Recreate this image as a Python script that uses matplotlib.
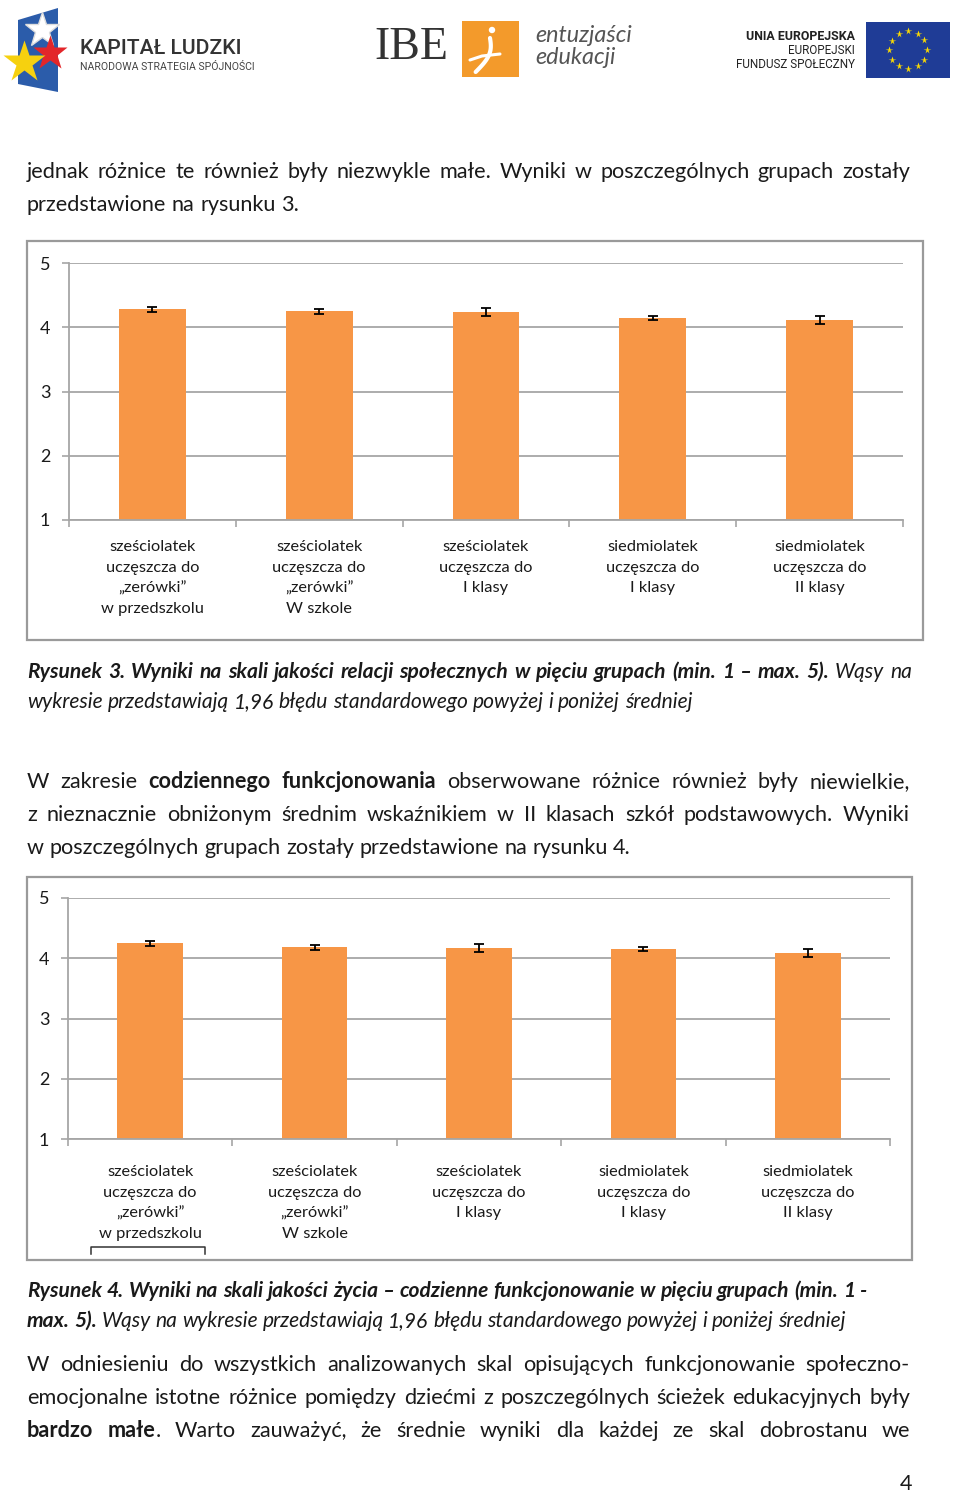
import matplotlib
matplotlib.use('Agg')
import matplotlib.pyplot as plt
from matplotlib.patches import Rectangle, Polygon, Circle
import numpy as np

# ---------------- data ----------------
categories = [
    "sześciolatek\nuczęszcza do\n„zerówki”\nw przedszkolu",
    "sześciolatek\nuczęszcza do\n„zerówki”\nW szkole",
    "sześciolatek\nuczęszcza do\nI klasy",
    "siedmiolatek\nuczęszcza do\nI klasy",
    "siedmiolatek\nuczęszcza do\nII klasy",
]
rel_means = [4.28, 4.25, 4.24, 4.14, 4.11]
rel_err = [0.04, 0.04, 0.06, 0.03, 0.06]
func_means = [4.25, 4.18, 4.17, 4.15, 4.09]
func_err = [0.04, 0.045, 0.07, 0.033, 0.07]
yticks = [1, 2, 3, 4, 5]

# ---------------- setup ----------------
W, H = 960, 1492
FONT = 'Lato'
ORANGE = '#F79646'
GRID = '#a6a6a6'
TXT = '#1a1a1a'

fig = plt.figure(figsize=(W / 100, H / 100), dpi=100)
bg = fig.add_axes([0, 0, 1, 1], zorder=0)
bg.set_xlim(0, W)
bg.set_ylim(H, 0)
bg.axis('off')
renderer = fig.canvas.get_renderer()


def rect_px(x0, y0, x1, y1):
    return [x0 / W, 1 - y1 / H, (x1 - x0) / W, (y1 - y0) / H]


# ---------------- header logos ----------------
# Kapitał Ludzki
bg.add_patch(Polygon([(18, 20), (58, 8), (58, 92), (18, 84)], closed=True,
                     facecolor='#2b5caa', edgecolor='none'))
bg.plot([42], [30], marker='*', ms=26, color='white', mec='#dddddd')
bg.plot([50], [53], marker='*', ms=26, color='#e3262a', mec='none')
bg.plot([24], [62], marker='*', ms=32, color='#f6d10f', mec='none')
bg.text(80, 48, 'KAPITAŁ LUDZKI', fontsize=15.2, family='Roboto', weight='medium',
        color='#333333', va='center', ha='left')
bg.text(80, 67, 'NARODOWA STRATEGIA SPÓJNOŚCI', fontsize=7.6, family='Roboto',
        color='#444444', va='center', ha='left')

# IBE
bg.text(411, 48, 'IBE', fontsize=33, family='Liberation Serif', color='#333333',
        va='center', ha='center')
bg.add_patch(Rectangle((462, 21), 57, 56, facecolor='#F39A2B', edgecolor='none'))
bg.add_patch(Circle((492, 30), 3.2, facecolor='white', edgecolor='none'))
t_ = np.linspace(0, 1, 40)
cx = 490 + 6 * np.sin(t_ * 3.2) - 14 * t_
cy = 38 + 34 * t_
bg.plot(cx, cy, color='white', lw=3, solid_capstyle='round')
bg.plot([470, 482, 500], [60, 56, 54], color='white', lw=2.2, solid_capstyle='round')
bg.text(535, 36, 'entuzjaści', fontsize=16.8, family='Lato', style='italic',
        color='#555555', va='center', ha='left')
bg.text(535, 58, 'edukacji', fontsize=16.8, family='Lato', style='italic',
        color='#555555', va='center', ha='left')

# EU
bg.text(855, 36, 'UNIA EUROPEJSKA', fontsize=8.9, family='Roboto', weight='bold',
        color='#222222', va='center', ha='right')
bg.text(855, 51, 'EUROPEJSKI', fontsize=8.4, family='Roboto', color='#222222',
        va='center', ha='right')
bg.text(855, 65, 'FUNDUSZ SPOŁECZNY', fontsize=8.4, family='Roboto', color='#222222',
        va='center', ha='right')
bg.add_patch(Rectangle((866, 22), 84, 56, facecolor='#1f3c96', edgecolor='none'))
ang = np.arange(12) * np.pi / 6
bg.plot(908 + 19 * np.cos(ang), 50 + 19 * np.sin(ang), ls='none', marker='*',
        ms=5.5, color='#ffdd00', mec='none')


# ---------------- justified text ----------------
STY = {
    'r': dict(weight='normal', style='normal', fontsize=15.55),
    'b': dict(weight='bold', style='normal', fontsize=15.55),
    'i': dict(weight='normal', style='italic', fontsize=15.1),
    'bi': dict(weight='bold', style='italic', fontsize=15.1),
}


def measure(s, st):
    t = bg.text(0, 0, s, family=FONT, **STY[st])
    w = t.get_window_extent(renderer).width
    t.remove()
    return w


def tokenize(runs):
    words = []
    cur = []
    for s, st in runs:
        parts = s.split(' ')
        for j, p in enumerate(parts):
            if j > 0 and cur:
                words.append(cur)
                cur = []
            if p:
                cur.append((p, st))
    if cur:
        words.append(cur)
    return words


def draw_line(y, runs, justify=True, x0=27, x1=910):
    words = tokenize(runs)
    widths = [[measure(s, st) for s, st in w] for w in words]
    total = sum(sum(w) for w in widths)
    if justify and len(words) > 1:
        gap = (x1 - x0 - total) / (len(words) - 1)
    else:
        st0 = words[0][0][1]
        gap = measure('a a', st0) - measure('aa', st0)
    x = x0
    for w, ws in zip(words, widths):
        for (s, st), sw in zip(w, ws):
            bg.text(x, y, s, family=FONT, color=TXT,
                    va='baseline', ha='left', **STY[st])
            x += sw
        x += gap


draw_line(178, [("jednak różnice te również były niezwykle małe. Wyniki w poszczególnych grupach zostały", 'r')])
draw_line(211, [("przedstawione na rysunku 3.", 'r')], justify=False)

draw_line(678, [("Rysunek 3. Wyniki na skali jakości relacji społecznych w pięciu grupach (min. 1 – max. 5).", 'bi'),
                (" Wąsy na", 'i')], x1=912)
draw_line(708, [("wykresie przedstawiają 1,96 błędu standardowego powyżej i poniżej średniej", 'i')], justify=False)

draw_line(788, [("W zakresie ", 'r'), ("codziennego funkcjonowania", 'b'),
                (" obserwowane różnice również były niewielkie,", 'r')])
draw_line(821, [("z nieznacznie obniżonym średnim wskaźnikiem w II klasach szkół podstawowych. Wyniki", 'r')])
draw_line(854, [("w poszczególnych grupach zostały przedstawione na rysunku 4.", 'r')], justify=False)

draw_line(1297, [("Rysunek 4. Wyniki na skali jakości życia – codzienne funkcjonowanie w pięciu grupach (min. 1 -", 'bi')],
          justify=False)
draw_line(1327, [("max. 5).", 'bi'), (" Wąsy na wykresie przedstawiają 1,96 błędu standardowego powyżej i poniżej średniej", 'i')],
          justify=False)

draw_line(1371, [("W odniesieniu do wszystkich analizowanych skal opisujących funkcjonowanie społeczno-", 'r')])
draw_line(1404, [("emocjonalne istotne różnice pomiędzy dziećmi z poszczególnych ścieżek edukacyjnych były", 'r')])
draw_line(1437, [("bardzo małe", 'b'), (". Warto zauważyć, że średnie wyniki dla każdej ze skal dobrostanu we", 'r')])

bg.text(906, 1490, '4', family=FONT, color=TXT, va='baseline', ha='center', **STY['r'])

# ---------------- chart frames ----------------
bg.add_patch(Rectangle((27, 241), 896, 399, facecolor='white', edgecolor='#9a9a9a', lw=1.6))
bg.add_patch(Rectangle((27, 877), 885, 383, facecolor='white', edgecolor='#9a9a9a', lw=1.6))
bg.plot([91, 91, 205, 205], [1254, 1247, 1247, 1254], color='#333333', lw=1.1)


# ---------------- charts ----------------
def chart(axrect, means, errs, label_off):
    ax = fig.add_axes(rect_px(*axrect), zorder=2)
    ax.patch.set_alpha(0)
    x = np.arange(len(means))
    m = np.array(means)
    ax.bar(x, m - 1, bottom=1, width=0.4, color=ORANGE, zorder=2)
    ax.errorbar(x, m, yerr=errs, fmt='none', ecolor='black', elinewidth=1.3,
                capsize=3.8, capthick=1.3, zorder=3)
    ax.set_xlim(-0.5, len(means) - 0.5)
    ax.set_ylim(1, 5)
    ax.set_yticks(yticks)
    ax.set_yticklabels([str(t) for t in yticks])
    ax.yaxis.grid(True, color=GRID, lw=1.3)
    ax.set_axisbelow(True)
    ax.set_xticks(np.arange(-0.5, len(means), 1.0))
    ax.set_xticklabels([])
    ax.tick_params(axis='x', length=5, width=1.2, color=GRID, direction='out')
    ax.tick_params(axis='y', length=5, width=1.2, color=GRID, pad=8.5,
                   labelsize=13, labelcolor=TXT)
    for lab in ax.get_yticklabels():
        lab.set_family(FONT)
    for s in ['top', 'right']:
        ax.spines[s].set_visible(False)
    for s in ['left', 'bottom']:
        ax.spines[s].set_color(GRID)
        ax.spines[s].set_linewidth(1.3)
    for i, lab in enumerate(categories):
        ax.annotate(lab, xy=(i, 0), xycoords=('data', 'axes fraction'),
                    xytext=(0, -label_off), textcoords='offset pixels',
                    ha='center', va='top', fontsize=11.8, family=FONT,
                    color=TXT, linespacing=1.6)
    return ax


chart((69, 263, 903, 520), rel_means, rel_err, 20)
chart((68, 898, 890, 1139), func_means, func_err, 26)

fig.savefig('out.png', dpi=100)
